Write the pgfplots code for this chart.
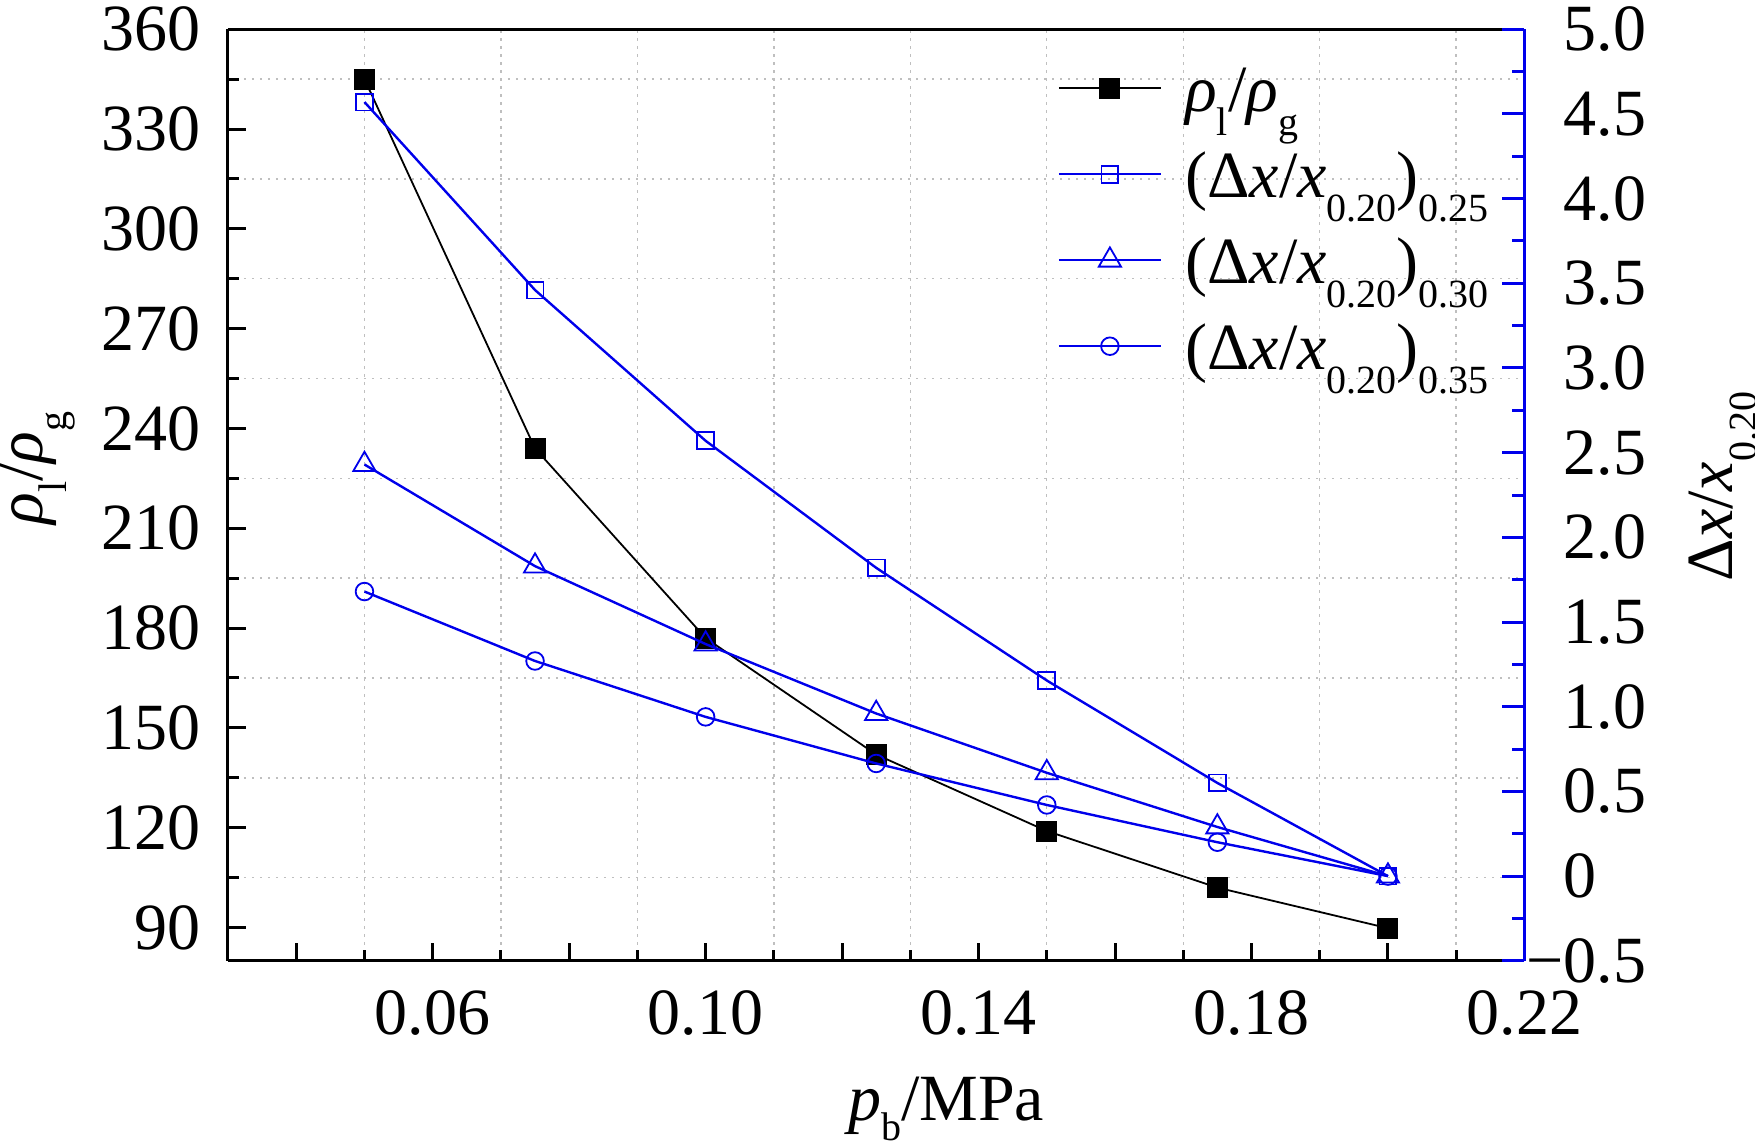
\documentclass[border=0pt]{standalone}
\usepackage{pgfplots}
\pgfplotsset{compat=1.18}
\usepackage{pgfplotstable}
\usepackage{fontspec}
\setmainfont{Liberation Serif}
\definecolor{mblue}{RGB}{0,0,235}
\newcommand{\sub}[2][-6pt]{\raisebox{#1}{\fontsize{10}{12}\selectfont #2}}

\pgfplotstableread{
x y
0.05 345
0.075 234
0.10 177
0.125 142
0.15 119
0.175 102
0.20 89.8
}\ratio
\pgfplotstableread{
x y
0.05 4.57
0.075 3.46
0.10 2.57
0.125 1.82
0.15 1.155
0.175 0.55
0.20 0.0
}\sqdata
\pgfplotstableread{
x y
0.05 2.43
0.075 1.83
0.10 1.37
0.125 0.96
0.15 0.61
0.175 0.29
0.20 0.0
}\tridata
\pgfplotstableread{
x y
0.05 1.68
0.075 1.27
0.10 0.94
0.125 0.665
0.15 0.42
0.175 0.20
0.20 0.0
}\circdata

\begin{document}
\begin{tikzpicture}[font=\fontsize{16.5}{19.8}\selectfont]
\begin{axis}[
  scale only axis, width=324.1pt, height=232.9pt,
  xmin=0.03, xmax=0.22, ymin=80, ymax=360,
  axis x line*=box, axis y line*=left,
  axis line style={line width=0.75pt, black},
  tick pos=left,
  tick align=inside,
  major tick length=4.5pt, minor tick length=2.75pt,
  tick style={line width=0.75pt, black},
  xtick={0.04,0.06,0.08,0.10,0.12,0.14,0.16,0.18,0.20,0.22},
  xticklabels={,0.06,,0.10,,0.14,,0.18,,0.22},
  minor xtick={0.05,0.07,0.09,0.11,0.13,0.15,0.17,0.19,0.21},
  ytick={90,120,150,180,210,240,270,300,330,360},
  yticklabels={90,120,150,180,210,240,270,300,330,360},
  minor ytick={105,135,165,195,225,255,285,315,345},
  grid=minor,
  minor grid style={gray!50, line width=0.35pt, dash pattern=on 0.6pt off 1.4pt},
  xticklabel style={inner sep=0pt, anchor=north, yshift=-7.25pt},
  yticklabel style={inner sep=0pt, anchor=east, xshift=-6.6pt},
  xlabel={\textit{p}\sub[-5pt]{b}/MPa},
  xlabel style={at={(rel axis cs:0.554,0)}, anchor=base, yshift=-40pt, inner sep=0pt},
  ylabel={\textit{ρ}\sub{l}/\textit{ρ}\sub{g}},
  ylabel style={at={([xshift=-46.25pt]rel axis cs:0,0.529)}, anchor=base, inner sep=0pt},
]
\addplot[black, line width=0.45pt, mark=square*, mark size=2.4pt, mark options={solid}] table {\ratio};
\end{axis}
\begin{axis}[
  scale only axis, width=324.1pt, height=232.9pt,
  xmin=0.03, xmax=0.22, ymin=-0.5, ymax=5,
  axis x line=none, axis y line*=right,
  y axis line style={mblue, line width=0.75pt},
  tick align=inside,
  major tick length=5.5pt, minor tick length=3pt,
  ytick style={mblue, line width=0.75pt},
  ytick={-0.5,0,0.5,1,1.5,2,2.5,3,3.5,4,4.5,5},
  yticklabels={\llap{−}0.5,0,0.5,1.0,1.5,2.0,2.5,3.0,3.5,4.0,4.5,5.0},
  minor ytick={-0.25,0.25,0.75,1.25,1.75,2.25,2.75,3.25,3.75,4.25,4.75},
  yticklabel style={inner sep=0pt, anchor=west, xshift=9.6pt, black},
  ylabel={Δ\textit{x}/\textit{x}\sub{0.20}},
  ylabel style={at={([xshift=51.9pt]rel axis cs:1,0.509)}, anchor=base, inner sep=0pt},
  legend cell align=left,
  legend style={at={(rel axis cs:0.640,1)}, anchor=north west, yshift=-8.5pt,
    draw=none, fill=none, inner sep=0pt, outer sep=0pt,
    row sep=3pt, column sep=5.8pt,
    nodes={inner sep=0pt, text height=12pt, text depth=6.5pt}},
  legend image code/.code={\draw[mark repeat=2,mark phase=2,#1] plot coordinates {(0pt,3pt)(12.75pt,3pt)(25.5pt,3pt)};},
]
\addlegendimage{black, line width=0.45pt, mark=square*, mark size=2.4pt, mark options={solid}}
\addlegendentry{\textit{ρ}\sub{l}/\textit{ρ}\sub{g}}
\addplot[mblue, line width=0.6pt, mark=square, mark size=2.1pt, mark options={solid, line width=0.45pt, fill=white}] table {\sqdata};
\addlegendentry{(Δ\textit{x}/\textit{x}\sub{0.20})\sub{0.25}}
\addplot[mblue, line width=0.6pt, mark=triangle, mark size=3.2pt, mark options={solid, line width=0.45pt, fill=none}] table {\tridata};
\addlegendentry{(Δ\textit{x}/\textit{x}\sub{0.20})\sub{0.30}}
\addplot[mblue, line width=0.6pt, mark=o, mark size=2.2pt, mark options={solid, line width=0.45pt, fill=none}] table {\circdata};
\addlegendentry{(Δ\textit{x}/\textit{x}\sub{0.20})\sub{0.35}}
\end{axis}
\pgfresetboundingbox
\path (-57pt,-46.1pt) rectangle (381.75pt,240.2pt);
\end{tikzpicture}
\end{document}
